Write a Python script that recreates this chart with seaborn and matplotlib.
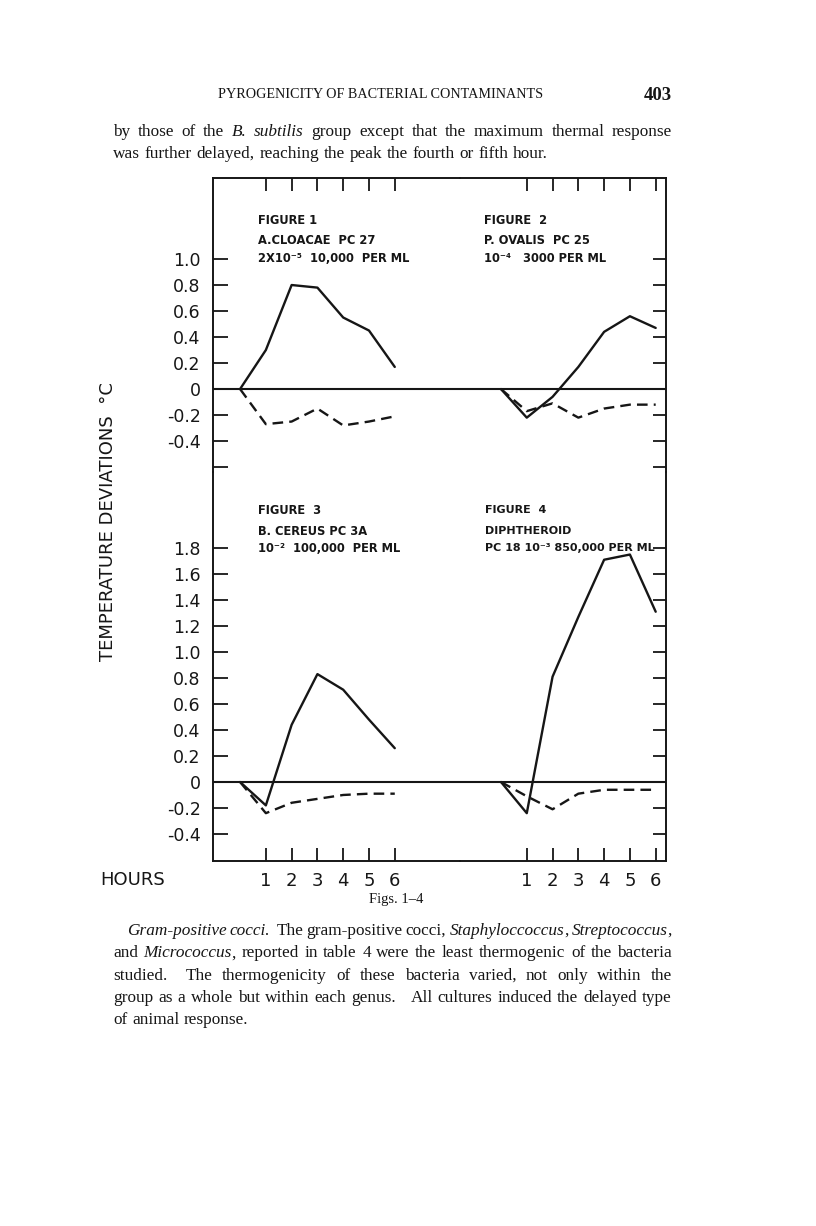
import matplotlib
matplotlib.use('Agg')
import matplotlib.pyplot as plt
import seaborn as sns

W, H = 816, 1226
INK = '#161616'
SERIF = 'Liberation Serif'

# Data (hours after injection, deviation in deg C)
hours = [0, 1, 2, 3, 4, 5, 6]
hour_ticks = [1, 2, 3, 4, 5, 6]
hour_labels = ['1', '2', '3', '4', '5', '6']

fig1_test = [0, 0.30, 0.80, 0.78, 0.55, 0.45, 0.17]
fig1_control = [0, -0.27, -0.25, -0.15, -0.28, -0.25, -0.21]
fig2_test = [0, -0.22, -0.06, 0.17, 0.44, 0.56, 0.47]
fig2_control = [0, -0.17, -0.11, -0.22, -0.15, -0.12, -0.12]
fig3_test = [0, -0.18, 0.44, 0.83, 0.71, 0.48, 0.26]
fig3_control = [0, -0.24, -0.16, -0.13, -0.10, -0.09, -0.09]
fig4_test = [0, -0.24, 0.81, 1.27, 1.71, 1.75, 1.31]
fig4_control = [0, -0.11, -0.21, -0.09, -0.06, -0.06, -0.06]

top_ticks = [-0.6, -0.4, -0.2, 0, 0.2, 0.4, 0.6, 0.8, 1.0]
top_labels = ['', '-0.4', '-0.2', '0', '0.2', '0.4', '0.6', '0.8', '1.0']
bottom_ticks = [-0.4, -0.2, 0, 0.2, 0.4, 0.6, 0.8, 1.0, 1.2, 1.4, 1.6, 1.8]
bottom_labels = ['-0.4', '-0.2', '0', '0.2', '0.4', '0.6', '0.8', '1.0',
                 '1.2', '1.4', '1.6', '1.8']

fig1_text = ['FIGURE 1', 'A.CLOACAE  PC 27', '2X10\u207b\u2075  10,000  PER ML']
fig2_text = ['FIGURE  2', 'P. OVALIS  PC 25', '10\u207b\u2074   3000 PER ML']
fig3_text = ['FIGURE  3', 'B. CEREUS PC 3A', '10\u207b\u00b2  100,000  PER ML']
fig4_text = ['FIGURE  4', 'DIPHTHEROID', 'PC 18 10\u207b\u00b3 850,000 PER ML']

sns.set_style('white')
plt.rcParams['font.family'] = ['DejaVu Sans']

fig = plt.figure(figsize=(W / 100, H / 100), dpi=100)
fig.patch.set_facecolor('white')


def px_box(x0, y0, x1, y1):
    return [x0 / W, 1 - y1 / H, (x1 - x0) / W, (y1 - y0) / H]


def ptext(x, y, s, **kw):
    kw.setdefault('color', INK)
    return fig.text(x / W, 1 - y / H, s, **kw)


ax_tl = fig.add_axes(px_box(213, 178, 460, 472))
ax_tr = fig.add_axes(px_box(460, 178, 666, 472))
ax_bl = fig.add_axes(px_box(213, 472, 460, 861))
ax_br = fig.add_axes(px_box(460, 472, 666, 861))

panels = [
    (ax_tl, fig1_test, fig1_control, 'left', 'top'),
    (ax_tr, fig2_test, fig2_control, 'right', 'top'),
    (ax_bl, fig3_test, fig3_control, 'left', 'bottom'),
    (ax_br, fig4_test, fig4_control, 'right', 'bottom'),
]

for ax, test, control, side, row in panels:
    ax.set_facecolor('none')
    sns.lineplot(x=hours, y=test, ax=ax, color=INK, lw=1.7)
    sns.lineplot(x=hours, y=control, ax=ax, color=INK, lw=1.7,
                 linestyle=(0, (4.5, 2.6)))
    ax.axhline(0, color=INK, lw=1.5)

    if side == 'left':
        ax.set_xlim(-1.05, 8.53)
    else:
        ax.set_xlim(-1.59, 6.4)
    if row == 'top':
        ax.set_ylim(-0.638, 1.623)
        ticks, labels = top_ticks, top_labels
    else:
        ax.set_ylim(-0.608, 2.385)
        ticks, labels = bottom_ticks, bottom_labels

    for name, sp in ax.spines.items():
        sp.set_visible(True)
        sp.set_color(INK)
        sp.set_linewidth(1.4)
    ax.spines['right' if side == 'left' else 'left'].set_visible(False)
    ax.spines['bottom' if row == 'top' else 'top'].set_visible(False)

    ax.set_yticks(ticks)
    ax.set_xticks(hour_ticks)
    if side == 'left':
        ax.set_yticklabels(labels)
        ax.tick_params(axis='y', left=True, right=False, labelleft=True,
                       labelright=False, direction='in', length=11, width=1.3,
                       color=INK, labelcolor=INK, labelsize=12.5, pad=9)
    else:
        ax.tick_params(axis='y', left=False, right=True, labelleft=False,
                       labelright=False, direction='in', length=9.5, width=1.3,
                       color=INK)
    if row == 'top':
        ax.tick_params(axis='x', top=True, bottom=False, labeltop=False,
                       labelbottom=False, direction='in', length=9, width=1.3,
                       color=INK)
    else:
        ax.set_xticklabels(hour_labels)
        ax.tick_params(axis='x', top=False, bottom=True, labeltop=False,
                       labelbottom=True, direction='in', length=9.5, width=1.3,
                       color=INK, labelcolor=INK, labelsize=13, pad=8)
    ax.set_xlabel('')
    ax.set_ylabel('')

# panel captions
for (x, y0), lines, size in [((258, 220), fig1_text, 8.3), ((484, 220), fig2_text, 8.3),
                             ((258, 510), fig3_text, 8.3), ((485, 510), fig4_text, 8.0)]:
    for i, s in enumerate(lines):
        ptext(x, y0 + [0, 21, 38][i], s, fontsize=size, fontweight='bold',
              ha='left', va='center')

ptext(108, 522, 'TEMPERATURE DEVIATIONS  \u00b0C', rotation=90, ha='center',
      va='center', fontsize=13)
ptext(100, 880, 'HOURS', ha='left', va='center', fontsize=13)


# page text around the figure
renderer = fig.canvas.get_renderer()


def text_line(line, x0, y, x1=None, size=12.4):
    groups = []
    italic = False
    pending = 0
    for w in line.split(' '):
        if w == '':
            pending += 1
            continue
        parts = w.split('_')
        group = []
        for i, p in enumerate(parts):
            if i > 0:
                italic = not italic
            if p:
                group.append(ptext(0, y, p, family=SERIF, fontsize=size,
                                   style='italic' if italic else 'normal',
                                   va='baseline', ha='left'))
        groups.append((group, (1 + pending) if groups else 0))
        pending = 0
    widths = [[t.get_window_extent(renderer).width for t in g] for g, _ in groups]
    total = sum(sum(w) for w in widths)
    space = size * 100 / 72 * 0.27
    if x1 is not None:
        space = (x1 - x0 - total) / sum(k for _, k in groups)
    x = x0
    for (g, k), ws in zip(groups, widths):
        x += k * space
        for t, wd in zip(g, ws):
            t.set_x(x / W)
            x += wd


ptext(381, 98, 'PYROGENICITY OF BACTERIAL CONTAMINANTS', family=SERIF,
      fontsize=10.2, ha='center', va='baseline')
ptext(672, 100, '403', family=SERIF, fontsize=13.5, fontweight='bold',
      ha='right', va='baseline')

text_line('by those of the _B. subtilis_ group except that the maximum thermal response',
          113, 136, 672)
text_line('was further delayed, reaching the peak the fourth or fifth hour.', 113, 158)

ptext(396, 903, 'Figs. 1\u20134', family=SERIF, fontsize=10.5, ha='center',
      va='baseline')

para = [
    ('_Gram-positive cocci._  The gram-positive cocci, _Staphyloccoccus_, _Streptococcus_,', 127, True),
    ('and _Micrococcus_, reported in table 4 were the least thermogenic of the bacteria', 113, True),
    ('studied.  The thermogenicity of these bacteria varied, not only within the', 113, True),
    ('group as a whole but within each genus.   All cultures induced the delayed type', 113, True),
    ('of animal response.', 113, False),
]
for i, (line, x0, just) in enumerate(para):
    text_line(line, x0, 935 + i * 22.3, 672 if just else None)

fig.savefig('out.png', dpi=100, facecolor='white')
